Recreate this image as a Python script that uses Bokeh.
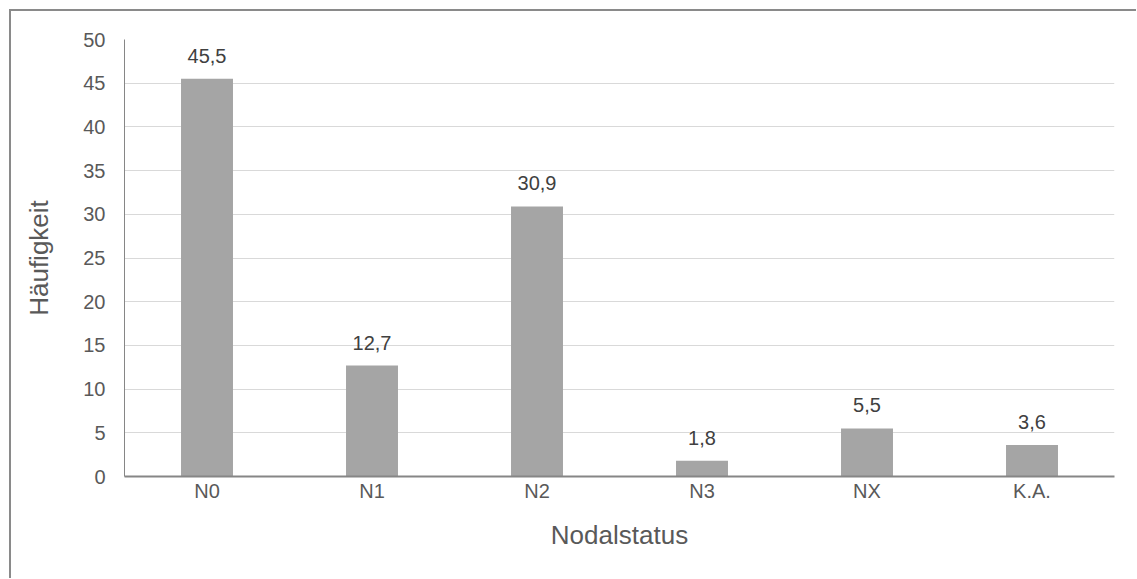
from bokeh.plotting import figure
from bokeh.models import ColumnDataSource, Range1d, FixedTicker, LabelSet
from bokeh.core.properties import value
from bokeh.embed import file_html
from bokeh.resources import INLINE

# Lymph node status distribution (percent)
categories = ["N0", "N1", "N2", "N3", "NX", "K.A."]
values = [45.5, 12.7, 30.9, 1.8, 5.5, 3.6]
y_ticks = [0, 5, 10, 15, 20, 25, 30, 35, 40, 45, 50]

labels = [f"{v:.1f}".replace(".", ",") for v in values]
source = ColumnDataSource(data=dict(cat=categories, val=values, lab=labels))

FONT = "Liberation Sans"
TEXT = "#595959"

p = figure(
    x_range=categories,
    y_range=Range1d(0, 50),
    width=1127,
    height=569,
    output_backend="svg",
    toolbar_location=None,
    min_border_left=113,
    min_border_right=24,
    min_border_top=28,
    min_border_bottom=104,
)
# Outer chart frame (only the top and left edges fall inside the page)
p.margin = (9, 0, 0, 9)
p.styles = {"border-top": "2px solid #8a8a8a", "border-left": "2px solid #8a8a8a"}

p.vbar(x="cat", top="val", width=0.315, source=source,
       fill_color="#a5a5a5", line_color=None)

p.add_layout(LabelSet(x="cat", y="val", text="lab", source=source,
                      text_align="center", text_baseline="alphabetic",
                      y_offset=16, text_font=value(FONT), text_font_size="20px",
                      text_color="#404040"))

p.outline_line_color = None
p.background_fill_color = "white"
p.border_fill_color = "white"

p.xgrid.grid_line_color = None
p.ygrid.grid_line_color = "#d9d9d9"
p.ygrid.grid_line_width = 1

p.yaxis.ticker = FixedTicker(ticks=y_ticks)
p.yaxis.axis_line_color = "#868686"
p.yaxis.major_tick_line_color = None
p.yaxis.minor_tick_line_color = None
p.yaxis.major_tick_out = 0
p.yaxis.major_tick_in = 0
p.yaxis.major_label_standoff = 19
p.yaxis.major_label_text_font = FONT
p.yaxis.major_label_text_font_size = "20px"
p.yaxis.major_label_text_color = TEXT
p.yaxis.axis_label = "Häufigkeit"
p.yaxis.axis_label_text_font = FONT
p.yaxis.axis_label_text_font_style = "normal"
p.yaxis.axis_label_text_font_size = "26px"
p.yaxis.axis_label_text_color = TEXT
p.yaxis.axis_label_standoff = 26

p.xaxis.axis_line_color = "#868686"
p.xaxis.axis_line_width = 2
p.xaxis.major_tick_line_color = None
p.xaxis.minor_tick_line_color = None
p.xaxis.major_tick_out = 0
p.xaxis.major_tick_in = 0
p.xaxis.major_label_standoff = 3
p.xaxis.major_label_text_font = FONT
p.xaxis.major_label_text_font_size = "20px"
p.xaxis.major_label_text_color = TEXT
p.xaxis.axis_label = "Nodalstatus"
p.xaxis.axis_label_text_font = FONT
p.xaxis.axis_label_text_font_style = "normal"
p.xaxis.axis_label_text_font_size = "26px"
p.xaxis.axis_label_text_color = TEXT
p.xaxis.axis_label_standoff = 15

open("out.html", "w").write(file_html(p, INLINE))
